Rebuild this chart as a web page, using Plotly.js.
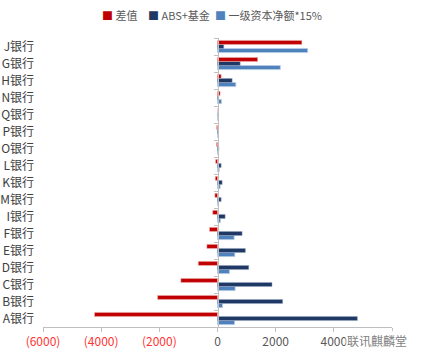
<!DOCTYPE html>
<html><head><meta charset="utf-8">
<script src="https://cdn.plot.ly/plotly-3.0.1.min.js"></script>
<style>html,body{margin:0;padding:0;background:#fff}#c{width:422px;height:359px}</style>
</head><body><div id="c"></div>
<script>
const banks = ['A银行','B银行','C银行','D银行','E银行','F银行','I银行','M银行','K银行','L银行','O银行','P银行','Q银行','N银行','H银行','G银行','J银行'];
const diff   = [-4230,-2060,-1260,-660,-366,-275,-165,-90,-75,-65,-35,-30,0,90,126,1380,2900];
const absFund= [4810,2240,1875,1075,960,846,263,125,160,125,50,30,0,45,504,780,216];
const tier1  = [583,172,606,410,594,572,100,35,90,60,15,0,0,135,630,2160,3100];
const seriesNames = ['差值','ABS+基金','一级资本净额*15%'];
const seriesColors = ['#C00000','#1F3864','#4F81BD'];
const xTickVals = [-6000,-4000,-2000,0,2000,4000,6000];
const xTickText = ['(6000)','(4000)','(2000)','0','2000','4000',''];

const font = '"Noto Sans CJK SC", "Noto Sans", sans-serif';
const traces = [
  {type:'bar',orientation:'h',name:seriesNames[2],x:tier1,y:banks,marker:{color:seriesColors[2],line:{color:'#B9CDE5',width:0.8}}},
  {type:'bar',orientation:'h',name:seriesNames[1],x:absFund,y:banks,marker:{color:seriesColors[1],line:{color:'#9BAACB',width:0.5}}},
  {type:'bar',orientation:'h',name:seriesNames[0],x:diff,y:banks,marker:{color:seriesColors[0],line:{color:'#F2B8B8',width:0.5}}}
];
const legX = [0.163, 0.295, 0.487];
const legendAnn = [];
seriesNames.forEach((n,i)=>{
  legendAnn.push({xref:'paper',yref:'paper',x:legX[i],y:1.08,xanchor:'left',yanchor:'middle',showarrow:false,
    text:'<span style="color:'+seriesColors[i]+'">■</span> '+n,font:{size:11,color:'#595959'}});
});
const layout = {
  width:422,height:359,
  margin:{l:43,r:30,t:38,b:32},
  paper_bgcolor:'#fff',plot_bgcolor:'#fff',
  font:{family:font,size:12,color:'#404040'},
  barmode:'group',bargap:0.28,bargroupgap:0,
  showlegend:false,
  xaxis:{range:[-6000,6000],tickvals:xTickVals,
    ticktext:xTickText.map((t,i)=>xTickVals[i]<0?'<span style="color:#FF3333">'+t+'</span>':t),
    showgrid:false,zeroline:false,showline:true,linecolor:'#BFBFBF',linewidth:1,
    ticks:'outside',ticklen:4,tickcolor:'#BFBFBF',tickfont:{size:12,color:'#595959'},fixedrange:true,automargin:false},
  yaxis:{type:'category',categoryarray:banks,anchor:'free',position:0.5,
    showline:true,linecolor:'#BFBFBF',linewidth:1,ticks:'outside',ticklen:4,tickcolor:'#BFBFBF',
    tickson:'boundaries',showgrid:false,zeroline:false,ticklabelstandoff:181,automargin:false,
    tickfont:{size:12,color:'#404040'},fixedrange:true},
  annotations:legendAnn.concat([{xref:'paper',yref:'paper',x:1.05,y:-0.048,xanchor:'right',yanchor:'middle',showarrow:false,
    text:'联讯麒麟堂',font:{size:12,color:'#7F7F7F'},bgcolor:'rgba(255,255,255,0.6)'}])
};
Plotly.newPlot('c',traces,layout,{displayModeBar:false,staticPlot:true});
</script></body></html>
